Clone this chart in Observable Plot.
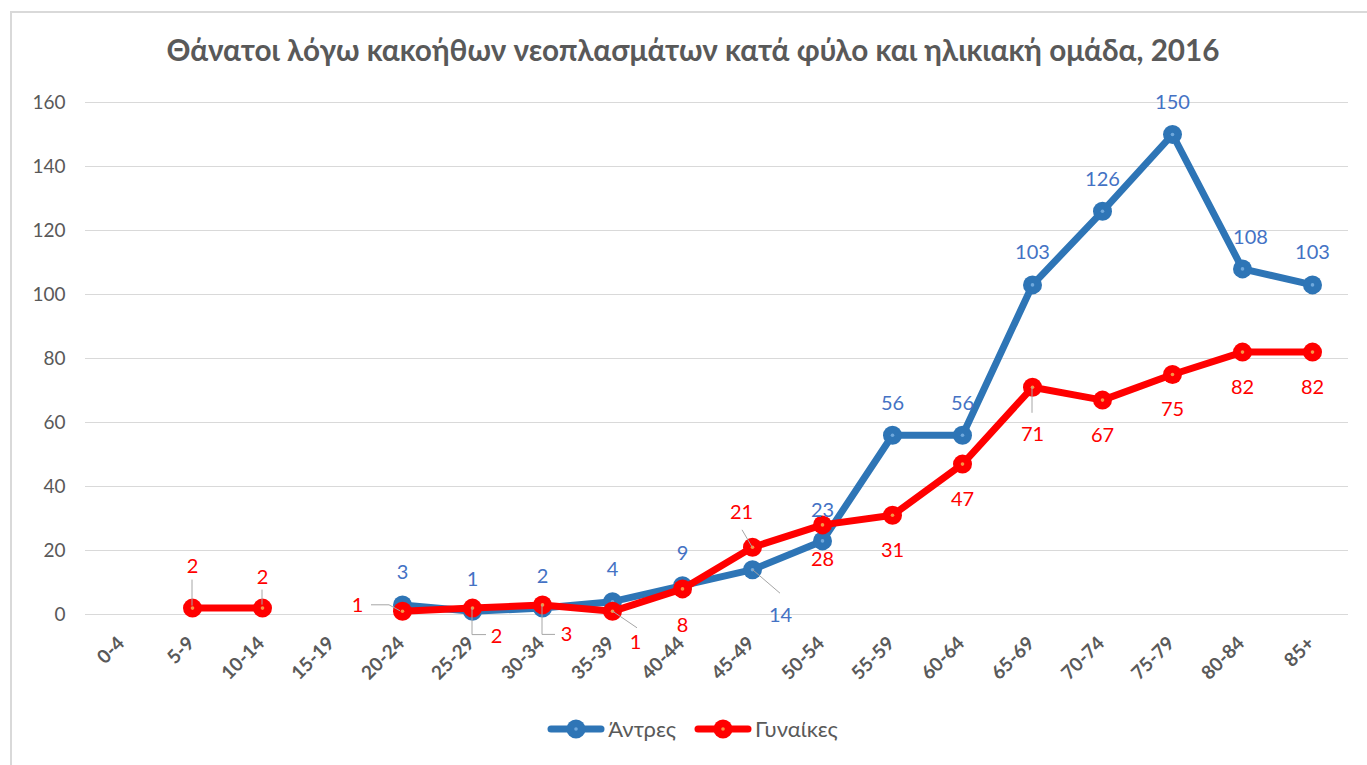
<!DOCTYPE html>
<html>
<head>
<meta charset="utf-8">
<script src="https://cdn.jsdelivr.net/npm/d3@7"></script>
<script src="https://cdn.jsdelivr.net/npm/@observablehq/plot@0.6"></script>
<style>
  html, body { margin: 0; padding: 0; background: #fff; }
  body { width: 1367px; height: 765px; position: relative; overflow: hidden; font-family: Lato, "Open Sans", sans-serif; }
  #frame { position: absolute; left: 10px; top: 11px; width: 1400px; height: 800px; border-top: 2px solid #D9D9D9; border-left: 2px solid #D9D9D9; }
  #title { position: absolute; left: 0; top: 32px; width: 1386px; text-align: center; font-size: 29.7px; line-height: 36px; font-weight: bold; color: #595959; }
  #chart { position: absolute; left: 0; top: 80px; }
  #legend { position: absolute; top: 715px; left: 0; width: 1367px; display: flex; justify-content: center; gap: 18px; font-size: 22px; color: #595959; padding-left: 18px; box-sizing: border-box; }
  .item { display: flex; align-items: center; gap: 3px; }
</style>
</head>
<body>
<div id="frame"></div>
<div id="title">Θάνατοι λόγω κακοήθων νεοπλασμάτων κατά φύλο και ηλικιακή ομάδα, 2016</div>
<div id="chart"></div>
<div id="legend"></div>
<script>
const ageGroups = ["0-4","5-9","10-14","15-19","20-24","25-29","30-34","35-39","40-44","45-49","50-54","55-59","60-64","65-69","70-74","75-79","80-84","85+"];
const men   = [null,null,null,null,3,1,2,4,9,14,23,56,56,103,126,150,108,103];
const women = [null,2,2,null,1,2,3,1,8,21,28,31,47,71,67,75,82,82];
const yTicks = [0,20,40,60,80,100,120,140,160];
const seriesNames = ["Άντρες","Γυναίκες"];

const colors = {men: "#2E75B6", women: "#FF0000"};
const labelColors = {men: "#4472C4", women: "#FF0000"};
const centerColors = {men: "#6FA8DC", women: "#F79646"};

// label placement (pixel offsets from point)
const menLabelDefault = [0, -32];
const menLabelOffsets = {"45-49": [28, 46], "50-54": [0, -30], "80-84": [8, -31]};
const womenLabelDefault = [0, 35];
const womenLabelOffsets = {"5-9": [0, -42], "10-14": [0, -31], "20-24": [-45, -6], "25-29": [24, 28], "30-34": [24, 30], "35-39": [23, 31], "40-44": [0, 37], "45-49": [-11, -35], "65-69": [0, 47]};
// leader lines (pixel polylines relative to point)
const menLeaders = {"45-49": [[0,0],[28,24]]};
const womenLeaders = {"5-9": [[0,-2],[0,-28]], "10-14": [[0,-3],[0,-18]], "20-24": [[-31,-6],[-13,-6],[-2,0]], "25-29": [[0,0],[0,27],[14,27]], "30-34": [[0,0],[0,30],[13,30]], "35-39": [[0,0],[25,17]], "45-49": [[-10,-17],[0,0]], "65-69": [[0,0],[0,26]]};

const menRows = ageGroups.map((a, i) => ({age: a, value: men[i]}));
const womenRows = ageGroups.map((a, i) => ({age: a, value: women[i]}));

function labelMarks(rows, def, offs, color) {
  return rows.filter(d => d.value != null).map(d => {
    const o = offs[d.age] || def;
    return Plot.text([d], {x: "age", y: "value", text: d => String(d.value), dx: o[0], dy: o[1], fill: color, fontSize: 20});
  });
}

function leaderMark(rows, leaders) {
  return (index, scales) => {
    const g = d3.create("svg:g").attr("fill", "none").attr("stroke", "#A6A6A6").attr("stroke-width", 1);
    rows.filter(d => d.value != null && leaders[d.age]).forEach(d => {
      const cx = scales.x(d.age), cy = scales.y(d.value);
      const pts = leaders[d.age].map(p => [cx + p[0], cy + p[1]]);
      g.append("polyline").attr("points", pts.map(p => p.join(",")).join(" "));
    });
    return g.node();
  };
}

const chart = Plot.plot({
  width: 1367,
  height: 620,
  marginLeft: 85,
  marginRight: 19,
  marginTop: 22,
  marginBottom: 86,
  style: {fontFamily: "Lato, 'Open Sans', sans-serif", color: "#595959", background: "transparent"},
  x: {domain: ageGroups, type: "point", padding: 0.5, label: null, axis: null},
  y: {domain: [0, 160], label: null, axis: null},
  marks: [
    Plot.gridY(yTicks, {stroke: "#D9D9D9", strokeOpacity: 1, strokeWidth: 1}),
    // y tick labels
    Plot.text(yTicks, {y: d => d, frameAnchor: "left", dx: -20, textAnchor: "end", text: d => String(d), fontSize: 19, fill: "#595959"}),
    // x tick labels
    Plot.text(ageGroups, {x: d => d, frameAnchor: "bottom", dx: 3, dy: 30, rotate: -45, textAnchor: "end", text: d => d, fontSize: 19, fontWeight: "bold", fill: "#595959"}),
    Plot.line(menRows, {x: "age", y: "value", stroke: colors.men, strokeWidth: 7, strokeLinejoin: "round", strokeLinecap: "round"}),
    Plot.dot(menRows, {x: "age", y: "value", r: 9.5, fill: colors.men, stroke: "none"}),
    Plot.dot(menRows, {x: "age", y: "value", r: 1.8, fill: centerColors.men, stroke: "none"}),
    Plot.line(womenRows, {x: "age", y: "value", stroke: colors.women, strokeWidth: 7, strokeLinejoin: "round", strokeLinecap: "round"}),
    Plot.dot(womenRows, {x: "age", y: "value", r: 9.5, fill: colors.women, stroke: "none"}),
    Plot.dot(womenRows, {x: "age", y: "value", r: 1.8, fill: centerColors.women, stroke: "none"}),
    leaderMark(menRows, menLeaders),
    leaderMark(womenRows, womenLeaders),
    ...labelMarks(menRows, menLabelDefault, menLabelOffsets, labelColors.men),
    ...labelMarks(womenRows, womenLabelDefault, womenLabelOffsets, labelColors.women)
  ]
});
document.getElementById("chart").appendChild(chart);

// legend
const legend = document.getElementById("legend");
[["men", seriesNames[0]], ["women", seriesNames[1]]].forEach(([k, name]) => {
  const item = document.createElement("div");
  item.className = "item";
  item.innerHTML = `<svg width="58" height="22"><line x1="4" y1="11" x2="54" y2="11" stroke="${colors[k]}" stroke-width="7" stroke-linecap="round"/><circle cx="29" cy="11" r="9.5" fill="${colors[k]}"/><circle cx="29" cy="11" r="1.8" fill="${centerColors[k]}"/></svg><span>${name}</span>`;
  legend.appendChild(item);
});
</script>
</body>
</html>
